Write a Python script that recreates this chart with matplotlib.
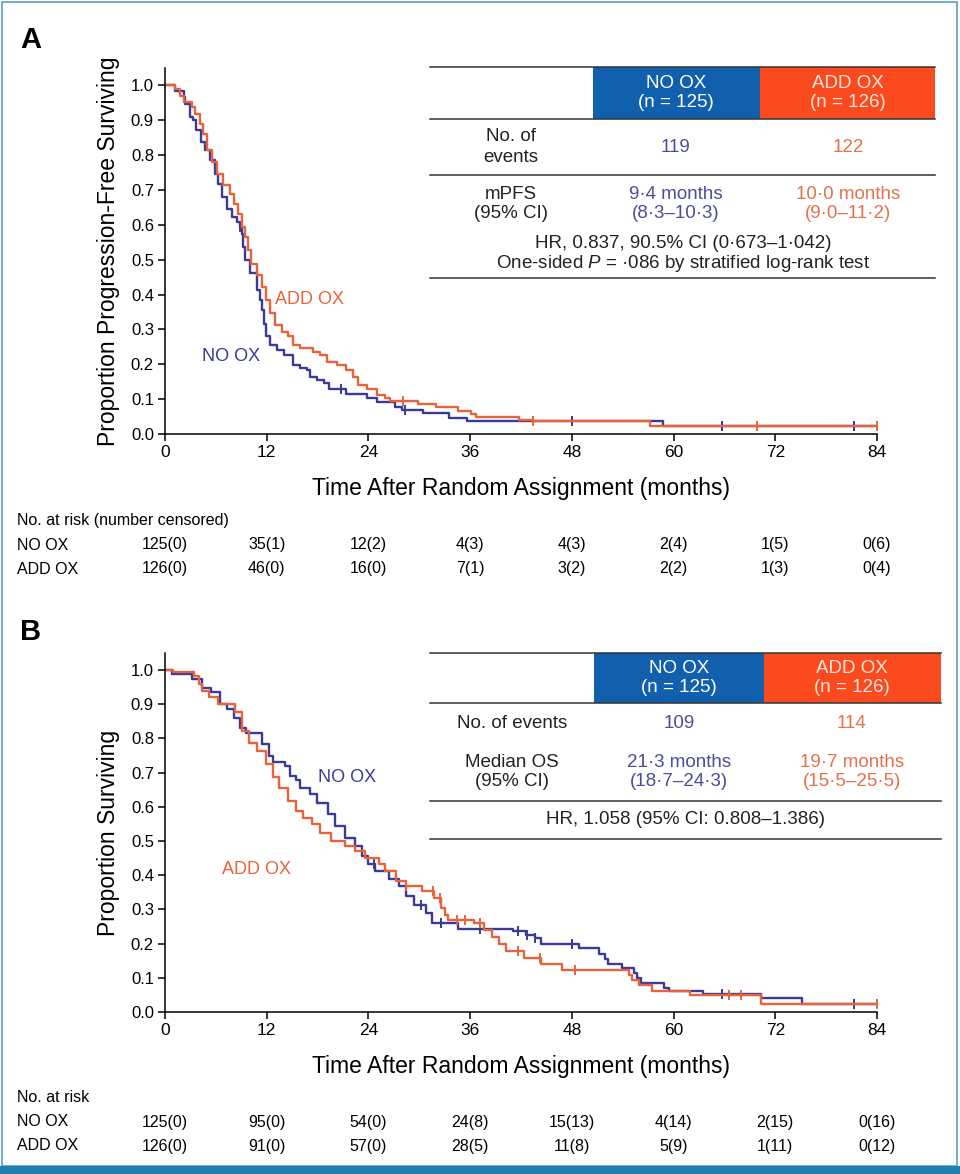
import numpy as np
import matplotlib
matplotlib.use("Agg")
import matplotlib.pyplot as plt
from matplotlib.patches import Rectangle
from matplotlib.transforms import blended_transform_factory

plt.rcParams['font.family'] = ['Liberation Sans', 'DejaVu Sans']
plt.rcParams['mathtext.fontset'] = 'custom'
plt.rcParams['mathtext.it'] = 'Liberation Sans:italic'
plt.rcParams['mathtext.rm'] = 'Liberation Sans'
NARROW = ['Liberation Sans Narrow', 'Liberation Sans', 'DejaVu Sans']

NAVY = '#3b3a96'
ORANGE = '#e8623c'
BOX_BLUE = '#1060ae'
BOX_RED = '#fa4a1e'
TXT_NAVY = '#4d4b9b'
TXT_ORANGE = '#e2724c'

# ---- panel A: progression-free survival (step points)
pfs_no_t = [0, 1.2, 2.2, 2.4, 2.95, 3.3, 3.7, 4.3, 4.7, 5.3, 5.9, 6.3, 6.7, 7.3, 7.9,
            8.5, 8.85, 9.1, 9.25, 9.45, 10.0, 10.8, 11.2, 11.5, 11.7, 11.9, 12.4, 13.2,
            14.0, 15.1, 15.9, 16.7, 17.1, 17.9, 18.7, 19.3, 21.4, 23.8, 25.0, 27.1, 28.0,
            30.4, 33.5, 35.6, 58.7, 84]
pfs_no_s = [1.0, 0.985, 0.967, 0.947, 0.909, 0.90, 0.871, 0.838, 0.814, 0.785, 0.747,
            0.718, 0.680, 0.646, 0.623, 0.608, 0.594, 0.575, 0.537, 0.50, 0.461, 0.413,
            0.384, 0.355, 0.317, 0.28, 0.255, 0.241, 0.226, 0.198, 0.188, 0.183, 0.164,
            0.155, 0.145, 0.13, 0.116, 0.102, 0.093, 0.078, 0.069, 0.059, 0.047, 0.038,
            0.023, 0.023]
pfs_no_cens = [8.9, 20.8, 28.3, 48.0, 65.7, 81.3]

pfs_add_t = [0, 1.2, 1.8, 2.2, 3.15, 3.5, 4.1, 4.5, 4.9, 5.5, 6.1, 6.9, 7.7, 8.1, 8.65,
             9.05, 9.45, 9.85, 10.2, 10.8, 11.4, 11.9, 12.4, 13.0, 13.8, 14.5, 15.1, 15.9,
             17.5, 18.3, 19.1, 20.3, 21.4, 22.2, 22.8, 23.8, 25.0, 26.0, 26.5, 29.9, 32.0,
             34.6, 36.1, 36.7, 41.8, 43.4, 57.2, 84]
pfs_add_s = [1.0, 0.99, 0.971, 0.952, 0.938, 0.919, 0.89, 0.861, 0.814, 0.78, 0.747,
             0.713, 0.689, 0.661, 0.632, 0.594, 0.565, 0.527, 0.489, 0.456, 0.422, 0.385,
             0.348, 0.314, 0.294, 0.28, 0.255, 0.246, 0.236, 0.226, 0.207, 0.198, 0.183,
             0.164, 0.14, 0.13, 0.112, 0.102, 0.094, 0.086, 0.077, 0.067, 0.058, 0.05,
             0.041, 0.036, 0.022, 0.022]
pfs_add_cens = [28.1, 43.4, 69.9, 84.0]

# ---- panel B: overall survival
os_no_t = [0, 0.8, 3.2, 4.4, 5.4, 6.5, 7.3, 8.1, 8.9, 9.5, 11.5, 12.3, 12.7, 14.1, 14.7,
           15.5, 15.9, 17.1, 17.9, 19.2, 20.0, 21.2, 22.4, 23.2, 24.0, 24.8, 26.4, 27.6,
           28.4, 29.4, 30.8, 31.5, 34.6, 41.0, 42.6, 43.6, 44.4, 48.8, 51.2, 51.9, 52.3,
           53.9, 55.3, 55.7, 56.1, 58.9, 59.5, 63.5, 70.3, 75.1, 84]
os_no_s = [1.0, 0.988, 0.974, 0.949, 0.935, 0.90, 0.886, 0.861, 0.832, 0.817, 0.783,
           0.749, 0.73, 0.72, 0.69, 0.68, 0.656, 0.637, 0.612, 0.578, 0.544, 0.51, 0.485,
           0.456, 0.432, 0.412, 0.388, 0.368, 0.339, 0.314, 0.29, 0.26, 0.243, 0.236,
           0.226, 0.216, 0.199, 0.187, 0.169, 0.154, 0.141, 0.129, 0.114, 0.099, 0.085,
           0.07, 0.06, 0.052, 0.042, 0.023, 0.023]
os_no_cens = [24.7, 30.2, 32.6, 37.2, 41.7, 42.7, 43.7, 48.0, 65.7, 81.3]

os_add_t = [0, 1.0, 3.4, 4.0, 4.4, 5.2, 6.25, 8.3, 9.1, 9.9, 10.9, 11.9, 12.7, 13.5, 14.5,
            15.5, 16.3, 17.3, 18.3, 19.6, 21.2, 22.4, 23.6, 25.2, 26.0, 27.2, 28.4, 30.3,
            31.7, 32.6, 33.0, 33.4, 36.4, 37.6, 38.6, 39.4, 40.2, 42.4, 44.4, 46.8, 54.7,
            55.1, 55.9, 57.5, 61.9, 70.3, 84]
os_add_s = [1.0, 0.993, 0.983, 0.959, 0.939, 0.92, 0.90, 0.876, 0.822, 0.788, 0.764,
            0.725, 0.686, 0.656, 0.617, 0.588, 0.568, 0.549, 0.524, 0.50, 0.485, 0.471,
            0.451, 0.432, 0.412, 0.383, 0.368, 0.354, 0.334, 0.305, 0.285, 0.268, 0.259,
            0.239, 0.219, 0.199, 0.179, 0.159, 0.139, 0.124, 0.109, 0.094, 0.08, 0.06,
            0.05, 0.023, 0.023]
os_add_cens = [28.4, 31.6, 32.4, 34.4, 35.4, 37.2, 41.6, 44.2, 48.4, 66.5, 67.9, 84.0]

# ---- numbers at risk
risk_times = [0, 12, 24, 36, 48, 60, 72, 84]
risk_A_no = ['125(0)', '35(1)', '12(2)', '4(3)', '4(3)', '2(4)', '1(5)', '0(6)']
risk_A_add = ['126(0)', '46(0)', '16(0)', '7(1)', '3(2)', '2(2)', '1(3)', '0(4)']
risk_B_no = ['125(0)', '95(0)', '54(0)', '24(8)', '15(13)', '4(14)', '2(15)', '0(16)']
risk_B_add = ['126(0)', '91(0)', '57(0)', '28(5)', '11(8)', '5(9)', '1(11)', '0(12)']

W, H = 960, 1174
fig = plt.figure(figsize=(9.6, 11.74), dpi=100)

# full-figure overlay in pixel units for tables, border and labels
over = fig.add_axes([0, 0, 1, 1], zorder=0)
over.set_xlim(0, W)
over.set_ylim(H, 0)
over.axis('off')


def px_axes(left, top, right, bottom):
    return fig.add_axes([left / W, 1 - bottom / H, (right - left) / W, (bottom - top) / H], zorder=2)


def step_at(ts, ss, t):
    i = np.searchsorted(ts, t, side='right') - 1
    return ss[max(i, 0)]


def draw_km(ax, ts, ss, cens, color):
    ax.step(ts, ss, where='post', color=color, lw=1.7)
    cy = [step_at(ts, ss, c) for c in cens]
    ax.plot(cens, cy, ls='none', marker='|', ms=7, mew=1.4, color=color)


def style_axes(ax, ylabel):
    ax.set_xlim(0, 84)
    ax.set_ylim(0, 1.05)
    ax.set_xticks(risk_times)
    ax.set_yticks(np.arange(0, 1.01, 0.1))
    ax.set_yticklabels([f'{v:.1f}' for v in np.arange(0, 1.01, 0.1)], fontsize=12)
    ax.set_xticklabels([str(v) for v in risk_times], fontsize=12.5, family=NARROW)
    for sp in ['top', 'right']:
        ax.spines[sp].set_visible(False)
    for sp in ['left', 'bottom']:
        ax.spines[sp].set_linewidth(1.1)
    ax.spines['bottom'].set_bounds(0, 84)
    ax.tick_params(direction='out', length=5, width=1.1, pad=3)
    ax.patch.set_alpha(0)
    ax.set_ylabel(ylabel, fontsize=16.5, labelpad=8)
    ax.set_xlabel('Time After Random Assignment (months)', fontsize=16.5, family=NARROW, labelpad=12)


def risk_rows(ax, title, rows, ys):
    tr = blended_transform_factory(ax.transData, over.transData)
    over.text(17, ys[0], title, fontsize=11.5, family=NARROW, va='center', ha='left')
    for (name, vals), y in zip(rows, ys[1:]):
        over.text(17, y, name, fontsize=11.5, family=NARROW, va='center', ha='left')
        for t, v in zip(risk_times, vals):
            over.text(t, y, v, transform=tr, fontsize=11.5, family=NARROW, va='center', ha='center')


def hline(y, x0, x1):
    over.plot([x0, x1], [y, y], color='#333333', lw=1.1)


fs = 13.5

# ---------------- panel A
axA = px_axes(165, 68, 877, 434)
draw_km(axA, pfs_no_t, pfs_no_s, pfs_no_cens, NAVY)
draw_km(axA, pfs_add_t, pfs_add_s, pfs_add_cens, ORANGE)
style_axes(axA, 'Proportion Progression-Free Surviving')
axA.text(17.1, 0.387, 'ADD OX', color=ORANGE, fontsize=13, ha='center', va='center')
axA.text(7.8, 0.221, 'NO OX', color=NAVY, fontsize=13, ha='center', va='center')
over.text(20, 40, 'A', fontsize=21, fontweight='bold', va='center', ha='left')

# table A
over.add_patch(Rectangle((593, 67), 167, 52, color=BOX_BLUE, lw=0))
over.add_patch(Rectangle((760, 67), 175, 52, color=BOX_RED, lw=0))
hline(67, 430, 935)
hline(119, 430, 935)
hline(175, 430, 935)
hline(278, 430, 935)
over.text(676, 93, 'NO OX\n(n = 125)', color='white', fontsize=fs, ha='center', va='center', linespacing=1.2)
over.text(848, 93, 'ADD OX\n(n = 126)', color='#ffe6de', fontsize=fs, ha='center', va='center', linespacing=1.2)
over.text(511, 147, 'No. of\nevents', color='#222222', fontsize=fs, ha='center', va='center', linespacing=1.3)
over.text(676, 147, '119', color=TXT_NAVY, fontsize=fs, ha='center', va='center')
over.text(848, 147, '122', color=TXT_ORANGE, fontsize=fs, ha='center', va='center')
over.text(511, 204, 'mPFS\n(95% CI)', color='#222222', fontsize=fs, ha='center', va='center', linespacing=1.2)
over.text(676, 204, '9·4 months\n(8·3–10·3)', color=TXT_NAVY, fontsize=fs, ha='center', va='center', linespacing=1.2)
over.text(848, 204, '10·0 months\n(9·0–11·2)', color=TXT_ORANGE, fontsize=fs, ha='center', va='center', linespacing=1.2)
over.text(683, 243, 'HR, 0.837, 90.5% CI (0·673–1·042)', color='#222222', fontsize=fs, ha='center', va='center')
over.text(683, 264, r'One-sided $\mathit{P}$ = ·086 by stratified log-rank test', color='#222222', fontsize=fs,
          ha='center', va='center')

risk_rows(axA, 'No. at risk (number censored)',
          [('NO OX', risk_A_no), ('ADD OX', risk_A_add)], [520, 545, 569])

# ---------------- panel B
axB = px_axes(165, 653, 877, 1012)
draw_km(axB, os_no_t, os_no_s, os_no_cens, NAVY)
draw_km(axB, os_add_t, os_add_s, os_add_cens, ORANGE)
style_axes(axB, 'Proportion Surviving')
axB.text(21.5, 0.687, 'NO OX', color=NAVY, fontsize=13, ha='center', va='center')
axB.text(10.8, 0.418, 'ADD OX', color=ORANGE, fontsize=13, ha='center', va='center')
over.text(20, 632, 'B', fontsize=21, fontweight='bold', va='center', ha='left')

# table B
over.add_patch(Rectangle((594, 653), 170, 50, color=BOX_BLUE, lw=0))
over.add_patch(Rectangle((764, 653), 177, 50, color=BOX_RED, lw=0))
hline(653, 430, 941)
hline(703, 430, 941)
hline(801, 430, 941)
hline(839, 430, 941)
over.text(679, 678, 'NO OX\n(n = 125)', color='white', fontsize=fs, ha='center', va='center', linespacing=1.2)
over.text(852, 678, 'ADD OX\n(n = 126)', color='#ffe6de', fontsize=fs, ha='center', va='center', linespacing=1.2)
over.text(512, 723, 'No. of events', color='#222222', fontsize=fs, ha='center', va='center')
over.text(679, 723, '109', color=TXT_NAVY, fontsize=fs, ha='center', va='center')
over.text(852, 723, '114', color=TXT_ORANGE, fontsize=fs, ha='center', va='center')
over.text(512, 772, 'Median OS\n(95% CI)', color='#222222', fontsize=fs, ha='center', va='center', linespacing=1.2)
over.text(679, 772, '21·3 months\n(18·7–24·3)', color=TXT_NAVY, fontsize=fs, ha='center', va='center', linespacing=1.2)
over.text(852, 772, '19·7 months\n(15·5–25·5)', color=TXT_ORANGE, fontsize=fs, ha='center', va='center', linespacing=1.2)
over.text(685, 820, 'HR, 1.058 (95% CI: 0.808–1.386)', color='#222222', fontsize=fs, ha='center', va='center')

risk_rows(axB, 'No. at risk',
          [('NO OX', risk_B_no), ('ADD OX', risk_B_add)], [1098, 1122, 1146])

# frame
over.add_patch(Rectangle((2, 2), 955, 1164, fill=False, ec='#5aa0bf', lw=1.2))
over.add_patch(Rectangle((0, 1166), W, 8, color='#1f7fae', lw=0))

fig.savefig('out.png', dpi=100)
